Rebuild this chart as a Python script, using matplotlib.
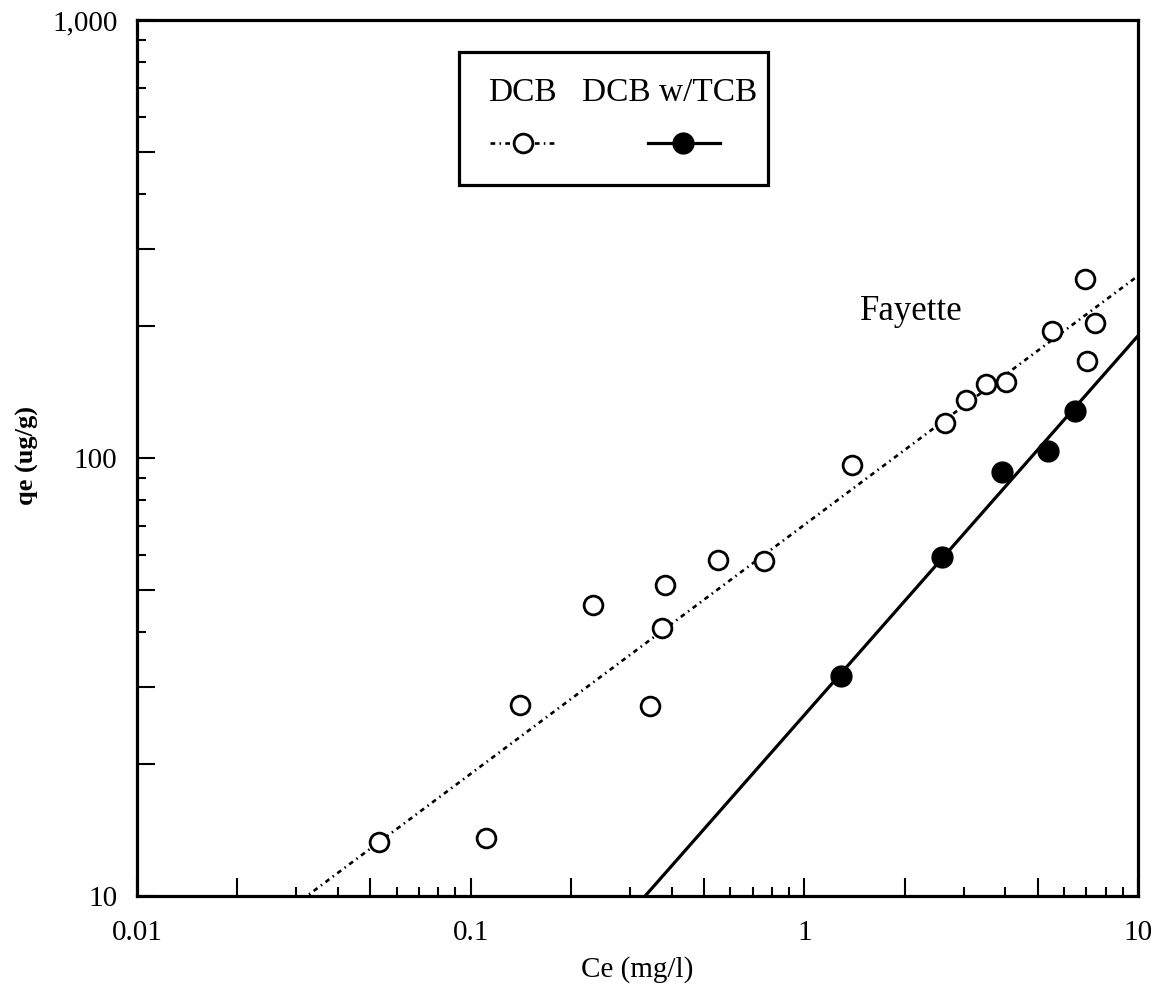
import numpy as np
import matplotlib
matplotlib.use('Agg')
import matplotlib.pyplot as plt
from matplotlib.patches import Rectangle
from matplotlib.lines import Line2D

plt.rcParams['font.family'] = ['Liberation Serif', 'DejaVu Serif']

# isotherm data, Fayette carbon
dcb_ce = [0.053, 0.111, 0.141, 0.233, 0.345, 0.375, 0.382, 0.551, 0.756,
          1.39, 2.63, 3.04, 3.51, 4.03, 5.53, 6.95, 7.44, 7.04]
dcb_qe = [13.3, 13.6, 27.3, 46.1, 27.1, 40.9, 51.2, 58.4, 58.1,
          96.6, 119.9, 135.9, 147.9, 149.4, 195.4, 256.7, 203.7, 166.9]

tcb_ce = [1.285, 2.58, 3.90, 5.38, 6.48]
tcb_qe = [31.8, 59.3, 92.7, 103.5, 128.3]

# Freundlich fits  qe = K * Ce^(1/n)
dcb_K, dcb_inv_n = 70.4, 0.5685
tcb_K, tcb_inv_n = 25.9, 0.866

x_decades = [0.01, 0.1, 1, 10]
x_decade_labels = ['0.01', '0.1', '1', '10']
y_decades = [10, 100, 1000]
y_decade_labels = ['10', '100', '1,000']

fig = plt.figure(figsize=(11.75, 9.96), dpi=100)
ax = fig.add_axes([0.1166, 0.1004, 0.852, 0.8795])
ax.set_xscale('log')
ax.set_yscale('log')
ax.set_xlim(0.01, 10)
ax.set_ylim(10, 1000)

dotdash = (0, (1.8, 1.6, 0.6, 1.6))

cfit = np.logspace(-2, 1, 300)
ax.plot(cfit, dcb_K * cfit ** dcb_inv_n, color='black', lw=1.9, linestyle=dotdash)
ax.plot(cfit, tcb_K * cfit ** tcb_inv_n, color='black', lw=2.3)

ax.plot(dcb_ce, dcb_qe, 'o', ms=13.5, mfc='white', mec='black', mew=2.0, zorder=3)
ax.plot(tcb_ce, tcb_qe, 'o', ms=15, mfc='black', mec='black', zorder=3)

ax.text(0.7225, 0.658, 'Fayette', transform=ax.transAxes, fontsize=25,
        ha='left', va='baseline')

# ticks: decades plus the 2/5 (and 3 on y) marks are long, the rest short
xlong = [0.01, 0.02, 0.05, 0.1, 0.2, 0.5, 1, 2, 5, 10]
xshort = [d * m for d in [0.01, 0.1, 1] for m in [3, 4, 6, 7, 8, 9]]
ylong = [10, 20, 30, 50, 100, 200, 300, 500, 1000]
yshort = [d * m for d in [10, 100] for m in [4, 6, 7, 8, 9]]

ax.set_xticks(xlong)
ax.set_xticklabels([x_decade_labels[x_decades.index(v)] if v in x_decades else '' for v in xlong])
ax.set_xticks(xshort, minor=True)
ax.set_xticklabels([], minor=True)
ax.set_yticks(ylong)
ax.set_yticklabels([y_decade_labels[y_decades.index(v)] if v in y_decades else '' for v in ylong])
ax.set_yticks(yshort, minor=True)
ax.set_yticklabels([], minor=True)

ax.tick_params(axis='both', which='major', direction='in', length=13, width=1.5,
               labelsize=21, top=False, right=False)
ax.tick_params(axis='both', which='minor', direction='in', length=6.5, width=1.5,
               top=False, right=False)
ax.tick_params(axis='x', which='major', pad=17)
ax.tick_params(axis='y', which='major', pad=14)

for sp in ax.spines.values():
    sp.set_linewidth(2.3)

ax.set_xlabel('Ce (mg/l)', fontsize=21)
ax.xaxis.set_label_coords(0.5, -0.069)
ax.set_ylabel('qe (ug/g)', fontsize=19, fontweight='bold')
ax.yaxis.set_label_coords(-0.098, 0.503)

# legend box drawn by hand: labels over their symbols
ax.add_patch(Rectangle((0.322, 0.812), 0.308, 0.151, transform=ax.transAxes,
                       facecolor='white', edgecolor='black', lw=2.3, zorder=5))
ax.text(0.351, 0.917, 'DCB', transform=ax.transAxes, fontsize=24,
        ha='left', va='center', zorder=6)
ax.text(0.4446, 0.917, 'DCB w/TCB', transform=ax.transAxes, fontsize=24,
        ha='left', va='center', zorder=6)
ax.add_line(Line2D([0.3526, 0.4176], [0.860, 0.860], transform=ax.transAxes,
                   color='black', lw=1.9, linestyle=dotdash, zorder=6))
ax.add_line(Line2D([0.3856], [0.860], transform=ax.transAxes, marker='o', ms=13.5,
                   mfc='white', mec='black', mew=2.0, zorder=7))
ax.add_line(Line2D([0.5105, 0.5824], [0.860, 0.860], transform=ax.transAxes,
                   color='black', lw=2.3, zorder=6))
ax.add_line(Line2D([0.5455], [0.860], transform=ax.transAxes, marker='o', ms=15,
                   mfc='black', mec='black', zorder=7))

fig.savefig('out.png', dpi=100, facecolor='white')
